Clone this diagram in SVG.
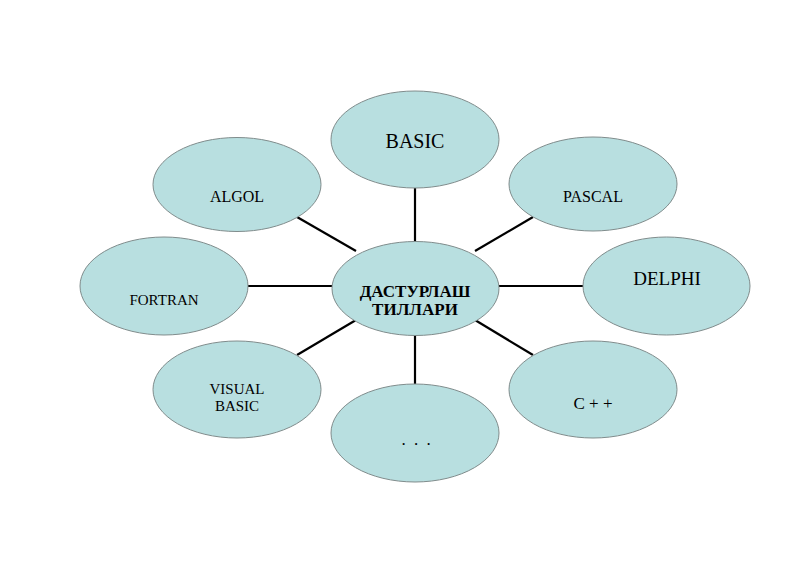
<svg xmlns="http://www.w3.org/2000/svg" width="800" height="565" viewBox="0 0 800 565">
<style>
.n{fill:#b8dfe0;stroke:#808c8c;stroke-width:1}
.t{font-family:"Liberation Serif","Times New Roman",serif;fill:#000;text-anchor:middle}
.c line{stroke:#000;stroke-width:2.2}
</style>
<rect width="800" height="565" fill="#fff"/>
<g class="c" id="connectors">
<line x1="415" y1="188" x2="415" y2="242"/>
<line x1="415" y1="335" x2="415" y2="384"/>
<line x1="248" y1="286" x2="332" y2="286"/>
<line x1="499" y1="286" x2="583" y2="286"/>
<line x1="297" y1="217" x2="356" y2="251"/>
<line x1="533" y1="217" x2="475" y2="251"/>
<line x1="297" y1="355" x2="356" y2="320"/>
<line x1="533" y1="355" x2="475" y2="320"/>
</g>
<g id="n-basic"><ellipse class="n" cx="415" cy="139.5" rx="84" ry="48.5"/><text class="t" x="415" y="148" font-size="20">BASIC</text></g>
<g id="n-algol"><ellipse class="n" cx="237" cy="184.5" rx="84" ry="47"/><text class="t" x="237" y="202" font-size="16">ALGOL</text></g>
<g id="n-pascal"><ellipse class="n" cx="593" cy="184" rx="84" ry="47"/><text class="t" x="593" y="202" font-size="16">PASCAL</text></g>
<g id="n-fortran"><ellipse class="n" cx="164" cy="286" rx="84" ry="49"/><text class="t" x="164" y="305" font-size="15">FORTRAN</text></g>
<g id="n-delphi"><ellipse class="n" cx="666.5" cy="286" rx="83.5" ry="49"/><text class="t" x="667" y="285" font-size="19">DELPHI</text></g>
<g id="n-visual"><ellipse class="n" cx="237" cy="389.5" rx="84" ry="48.5"/><text class="t" x="237" y="394" font-size="15">VISUAL</text><text class="t" x="237" y="411" font-size="15">BASIC</text></g>
<g id="n-cpp"><ellipse class="n" cx="593" cy="389.5" rx="84" ry="48.5"/><text class="t" x="593" y="409" font-size="17">C + +</text></g>
<g id="n-more"><ellipse class="n" cx="415" cy="433" rx="84" ry="49"/><text class="t" x="417" y="445" font-size="17" letter-spacing="2">. . .</text></g>
<g id="n-center"><ellipse class="n" cx="415.5" cy="288.5" rx="83.5" ry="47"/><text class="t" x="415" y="297" font-size="17" font-weight="bold">ДАСТУРЛАШ</text><text class="t" x="415" y="315" font-size="17" font-weight="bold">ТИЛЛАРИ</text></g>
</svg>
